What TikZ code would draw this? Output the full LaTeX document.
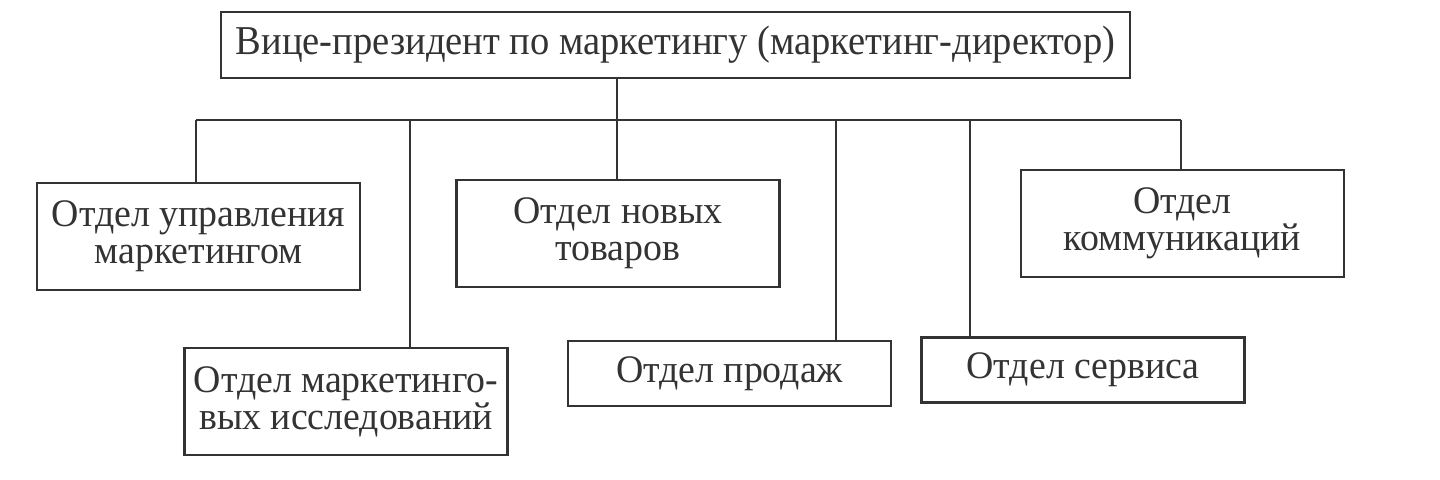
\documentclass[tikz,border=0pt]{standalone}
\usepackage{fontspec}
\setmainfont{Liberation Serif}
\newfontfamily\boxfont[FakeStretch=0.97]{Liberation Serif}
\newfontfamily\topfont[FakeStretch=0.94]{Liberation Serif}
\begin{document}
\begin{tikzpicture}[x=0.5pt,y=-0.5pt,
  line/.style={draw=black!80, line width=1.3pt},
  box/.style={line, minimum width=161.5pt, minimum height=53.5pt, inner sep=0pt,
    align=center, text=black!80, font=\boxfont\fontsize{19.5}{18.5}\selectfont},
  lowbox/.style={box, minimum height=32.5pt}]
\useasboundingbox (0,0) rectangle (1440,480);
\fill[white] (0,0) rectangle (1440,480);

\node[box, minimum width=454.5pt, minimum height=33pt, font=\topfont\fontsize{20.5}{20}\selectfont] (vp) at (675.5,45) {Вице-президент по маркетингу (маркетинг-директор)};

\node[box] (upr) at (198.5,236.5) {Отдел управления\\маркетингом};
\node[box] (issl) at (346,401.5) {Отдел маркетинго-\\вых исследований};
\node[box] (nov) at (618,233.5) {Отдел новых\\товаров};
\node[lowbox] (prod) at (729.5,373.5) {Отдел продаж};
\node[lowbox] (serv) at (1083,370) {Отдел сервиса};
\node[box] (komm) at (1182.5,223.5) {Отдел\\коммуникаций};

\coordinate (b1) at (196,120);
\coordinate (b2) at (410,120);
\coordinate (b3) at (617,120);
\coordinate (b4) at (836,120);
\coordinate (b5) at (970,120);
\coordinate (b6) at (1181,120);

\draw[line] (vp.south -| b3) -- (b3);
\draw[line] (b1) -- (b6);
\draw[line] (b1) -- (b1 |- upr.north);
\draw[line] (b2) -- (b2 |- issl.north);
\draw[line] (b3) -- (b3 |- nov.north);
\draw[line] (b4) -- (b4 |- prod.north);
\draw[line] (b5) -- (b5 |- serv.north);
\draw[line] (b6) -- (b6 |- komm.north);
\end{tikzpicture}
\end{document}
